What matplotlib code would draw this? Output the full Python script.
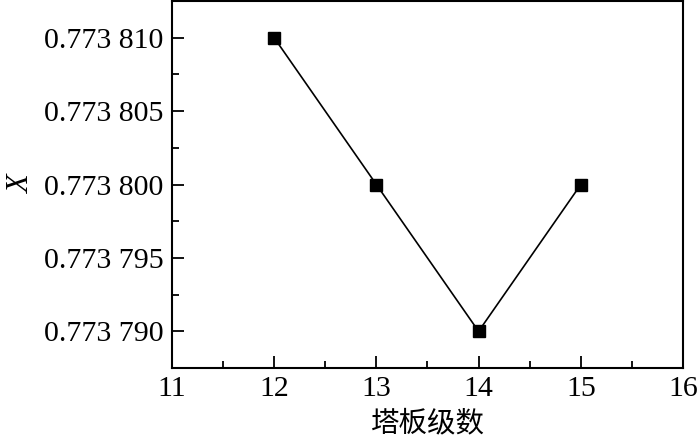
import matplotlib.pyplot as plt
from matplotlib.ticker import FixedLocator, FuncFormatter, MultipleLocator

plates = [12, 13, 14, 15]
x_vals = [0.773810, 0.773800, 0.773790, 0.773800]
y_ticks = [0.773790, 0.773795, 0.773800, 0.773805, 0.773810]

plt.rcParams['font.family'] = ['Liberation Serif', 'Noto Sans CJK SC']

fig = plt.figure(figsize=(7, 4.41), dpi=100)
ax = fig.add_axes([0.2457, 0.1655, 0.730, 0.832])

ax.plot(plates, x_vals, color='black', lw=1.2, marker='s', ms=8.5)

ax.set_xlim(11, 16)
ax.set_ylim(0.7737875, 0.7738125)
ax.xaxis.set_major_locator(MultipleLocator(1))
ax.xaxis.set_minor_locator(MultipleLocator(0.5))
ax.yaxis.set_major_locator(FixedLocator(y_ticks))
ax.yaxis.set_minor_locator(MultipleLocator(0.0000025))


def fmt(v, pos):
    s = '%.6f' % v
    return s[:5] + ' ' + s[5:]


ax.yaxis.set_major_formatter(FuncFormatter(fmt))
ax.tick_params(which='both', direction='in', top=False, right=False, labelsize=21.5, width=1.3)
ax.tick_params(which='major', length=8.5, pad=6)
ax.tick_params(which='minor', length=5)
for sp in ax.spines.values():
    sp.set_linewidth(1.5)

ax.set_xlabel('塔板级数', fontsize=20.5, family=['Noto Sans CJK SC'], labelpad=4)
ax.set_ylabel('X', fontsize=22, fontstyle='italic', labelpad=6)

fig.savefig('out.png', dpi=100)
